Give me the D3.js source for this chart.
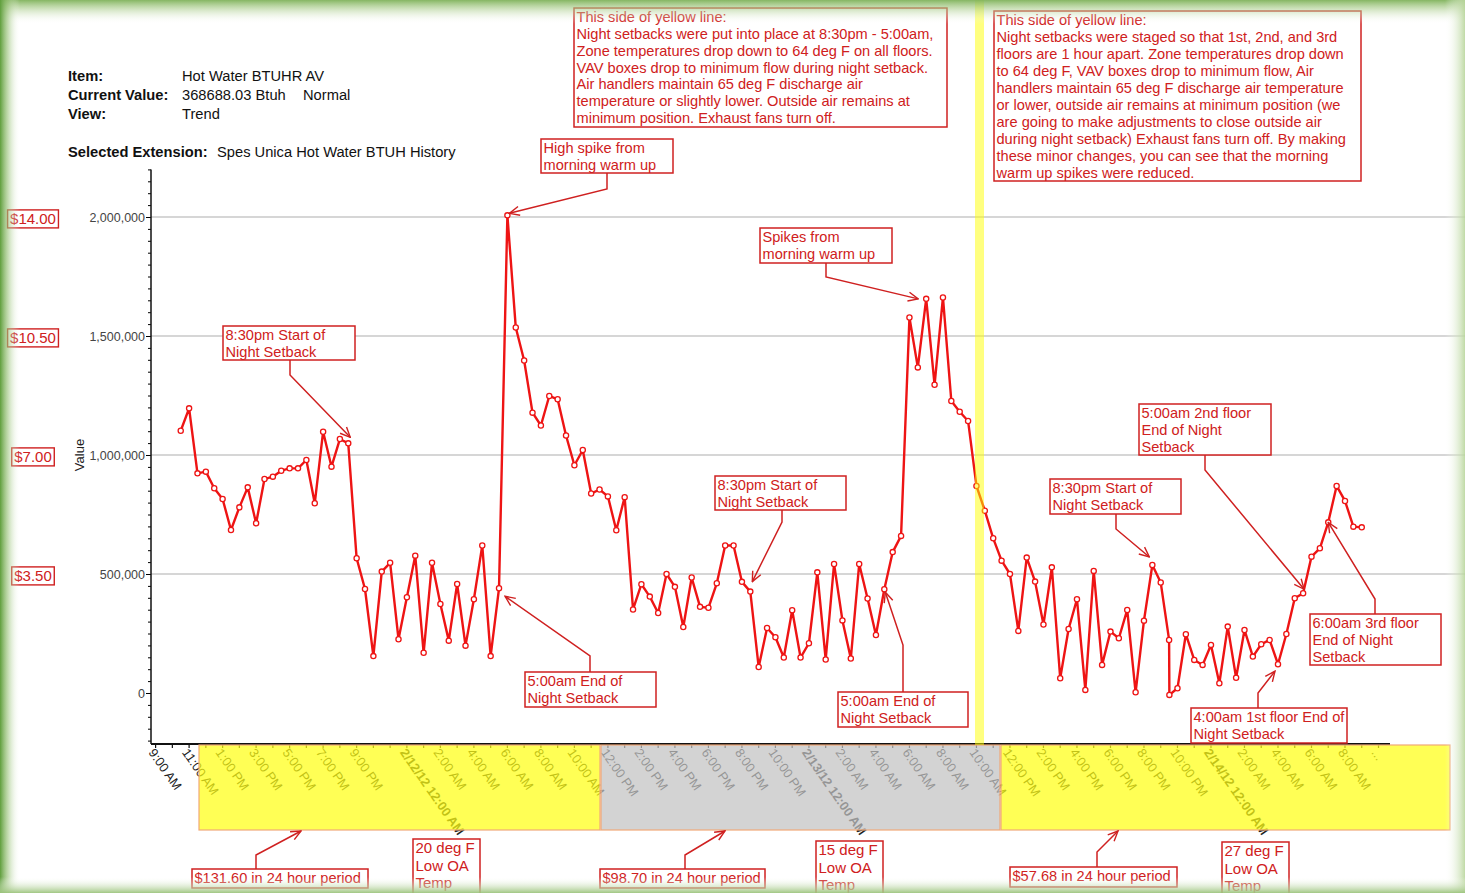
<!DOCTYPE html>
<html>
<head>
<meta charset="utf-8">
<script src="https://cdn.jsdelivr.net/npm/d3@7"></script>
<style>
  body { margin: 0; background: #fff; }
  svg { display: block; font-family: "Liberation Sans", Arial, sans-serif; }
</style>
</head>
<body>
<svg></svg>
<script>
// half-hourly samples, Hot Water BTUH, starting 2/11/12 10:30 AM
// (one extra sample sits right after 2/13 9:30 PM)
const hotWaterBtuh = [
  1102000, 1196000, 923000, 930000, 860000, 815000, 685000, 780000, 864000, 713000,
  899000, 909000, 934000, 944000, 944000, 979000, 797000, 1098000, 951000, 1067000,
  1049000, 566000, 437000, 155000, 510000, 547000, 226000, 402000, 577000, 169000,
  547000, 374000, 220000, 458000, 199000, 394000, 620000, 155000, 440000, 2007000,
  1536000, 1397000, 1178000, 1124000, 1248000, 1234000, 1082000, 957000, 1021000, 838000,
  855000, 826000, 684000, 823000, 351000, 457000, 405000, 336000, 500000, 446000,
  277000, 485000, 362000, 358000, 461000, 620000, 620000, 467000, 426000, 109000,
  273000, 234000, 149000, 348000, 149000, 209000, 507000, 141000, 542000, 305000,
  145000, 542000, 397000, 244000, 436000, 592000, 660000, 1578000, 1368000, 1656000,
  1295000, 1662000, 1227000, 1182000, 1143000, 870000, 766000, 650000, 556000, 500000,
  261000, 569000, 468000, 288000, 528000, 62000, 269000, 394000, 13000, 513000,
  118000, 258000, 230000, 349000, 3000, 304000, 538000, 464000, 223000, -8000,
  20000, 247000, 139000, 118000, 202000, 41000, 279000, 64000, 265000, 153000,
  205000, 223000, 121000, 248000, 398000, 419000, 573000, 608000, 717000, 870000,
  807000, 699000, 696000
]
const extraSampleIndex = 119   // the doubled reading
const firstSample = new Date(2012, 1, 11, 10, 30)

const valueTicks = [0, 500000, 1000000, 1500000, 2000000]
const costTicks = [500000, 1000000, 1500000, 2000000]
const costLabels = ["$3.50", "$7.00", "$10.50", "$14.00"]

const periodCosts = ["$131.60 in 24 hour period", "$98.70 in 24 hour period", "$57.68 in 24 hour period"]
const lowOATemps = ["20 deg F", "15 deg F", "27 deg F"]

const W = 1465, H = 893
const svg = d3.select("svg").attr("width", W).attr("height", H)

const red = "#cf2020"
const lineRed = "#ee1414"
const noteSize = 14.6

// sample times
const sampleTimes = hotWaterBtuh.map((d, i) => {
  if (i < extraSampleIndex) return d3.timeMinute.offset(firstSample, 30 * i)
  if (i === extraSampleIndex) return d3.timeMinute.offset(firstSample, 30 * (i - 1) + 1)
  return d3.timeMinute.offset(firstSample, 30 * (i - 1))
})
const samples = hotWaterBtuh.map((v, i) => ({ t: sampleTimes[i], v: v }))

const x = d3.scaleTime()
  .domain([new Date(2012, 1, 11, 9, 0), new Date(2012, 1, 14, 10, 0)])
  .range([155.6, 1378.5])

const y = d3.scaleLinear()
  .domain([-200000, 2200000])
  .range([740.6, 169.4])

const axisX0 = 151, axisY0 = 744

// ---------- defs ----------
const defs = svg.append("defs")
function grad(id, x1, y1, x2, y2, stops) {
  const g = defs.append("linearGradient").attr("id", id)
    .attr("x1", x1).attr("y1", y1).attr("x2", x2).attr("y2", y2)
  stops.forEach(s => g.append("stop").attr("offset", s[0]).attr("stop-color", s[1]).attr("stop-opacity", s[2]))
}
grad("gTop", 0, 0, 0, 1, [[0, "#7fb25a", 0.95], [0.35, "#a9cc8a", 0.6], [1, "#ffffff", 0]])
grad("gLeft", 0, 0, 1, 0, [[0, "#5f9e3c", 1], [0.4, "#9cc47c", 0.6], [1, "#ffffff", 0]])
grad("gRight", 1, 0, 0, 0, [[0, "#b9d69c", 0.9], [1, "#ffffff", 0]])
grad("gBottom", 0, 1, 0, 0, [[0, "#9cc47c", 0.95], [1, "#ffffff", 0]])

defs.append("marker")
  .attr("id", "arrow")
  .attr("viewBox", "0 0 12 12")
  .attr("refX", 11).attr("refY", 6)
  .attr("markerWidth", 12).attr("markerHeight", 12)
  .attr("markerUnits", "userSpaceOnUse")
  .attr("orient", "auto")
  .append("path")
  .attr("d", "M1,1.5 L11,6 L1,10.5")
  .attr("fill", "none")
  .attr("stroke", red)
  .attr("stroke-width", 1.4)

svg.append("rect").attr("width", W).attr("height", H).attr("fill", "#fff")

// ---------- header ----------
const header = svg.append("g").attr("font-size", 14.7).attr("fill", "#111")
const headerRows = [
  ["Item:", "Hot Water BTUHR AV", 81],
  ["Current Value:", "368688.03 Btuh", 100],
  ["View:", "Trend", 119]
]
headerRows.forEach(r => {
  header.append("text").attr("x", 68).attr("y", r[2]).attr("font-weight", "bold").text(r[0])
  header.append("text").attr("x", 182).attr("y", r[2]).text(r[1])
})
header.append("text").attr("x", 303).attr("y", 100).text("Normal")
header.append("text").attr("x", 68).attr("y", 157).attr("font-weight", "bold").text("Selected Extension:")
header.append("text").attr("x", 217).attr("y", 157).text("Spes Unica Hot Water BTUH History")

// ---------- grid ----------
svg.append("g")
  .selectAll("line.grid")
  .data(valueTicks.filter(d => d > 0))
  .enter()
  .append("line")
  .attr("x1", axisX0).attr("x2", W)
  .attr("y1", d => y(d)).attr("y2", d => y(d))
  .attr("stroke", "#c8c8c8")
  .attr("stroke-width", 1.5)

// ---------- y axis ----------
const yMinor = svg.append("g").attr("transform", `translate(${axisX0},0)`)
  .call(d3.axisLeft(y).tickValues(d3.range(-200000, 2200001, 50000)).tickSize(3).tickFormat(""))
yMinor.select(".domain").remove()
const yAxis = svg.append("g").attr("transform", `translate(${axisX0},0)`)
  .call(d3.axisLeft(y).tickValues(valueTicks).tickSize(5).tickPadding(1).tickFormat(d3.format(",")))
yAxis.select(".domain").remove()
yAxis.selectAll("text").attr("font-size", 12.5).attr("fill", "#444")
  .attr("font-family", "'Liberation Sans', Arial, sans-serif")
svg.append("line")
  .attr("x1", axisX0).attr("x2", axisX0)
  .attr("y1", y(2200000)).attr("y2", axisY0)
  .attr("stroke", "#111").attr("stroke-width", 1.5)

svg.append("text")
  .attr("transform", `translate(84,${y(1000000)}) rotate(-90)`)
  .attr("text-anchor", "middle")
  .attr("font-size", 13)
  .attr("fill", "#222")
  .text("Value")

// ---------- x axis ----------
const hourTicks = d3.timeHour.range(new Date(2012, 1, 11, 9), new Date(2012, 1, 14, 11))
svg.append("g")
  .selectAll("line")
  .data(hourTicks)
  .enter()
  .append("line")
  .attr("x1", d => x(d)).attr("x2", d => x(d))
  .attr("y1", axisY0).attr("y2", axisY0 + 4)
  .attr("stroke", "#111").attr("stroke-width", 1.2)

svg.append("line")
  .attr("x1", axisX0).attr("x2", 1390)
  .attr("y1", axisY0).attr("y2", axisY0)
  .attr("stroke", "#111").attr("stroke-width", 1.8)

const labelTimes = [9, 11, 13, 15, 17, 19, 21].map(h => new Date(2012, 1, 11, h))
  .concat(d3.timeHour.every(2).range(new Date(2012, 1, 12, 0), new Date(2012, 1, 14, 9)))
const fmtTime = d3.timeFormat("%-I:%M %p")
const fmtDate = d3.timeFormat("%-m/%-d/%y %-I:%M %p")

const xLabels = svg.append("g").attr("font-size", 12.8).attr("fill", "#222")
xLabels.selectAll("text")
  .data(labelTimes)
  .enter()
  .append("text")
  .attr("transform", d => `translate(${x(d) - 1},${axisY0 + 4}) rotate(55)`)
  .attr("dy", "0.62em")
  .attr("font-weight", d => d.getHours() === 0 ? "bold" : "normal")
  .text(d => d.getHours() === 0 ? fmtDate(d) : fmtTime(d))
xLabels.append("text")
  .attr("transform", `translate(${x(new Date(2012, 1, 14, 10)) - 1},${axisY0 + 4}) rotate(55)`)
  .attr("dy", "0.62em")
  .text("...")

// ---------- day bands (drawn over the labels) ----------
const bands = [
  { x0: 199, x1: 600, fill: "rgb(255,255,20)" },
  { x0: 601, x1: 1000, fill: "rgb(194,194,194)" },
  { x0: 1001, x1: 1450, fill: "rgb(255,255,20)" }
]
svg.append("g")
  .selectAll("rect")
  .data(bands)
  .enter()
  .append("rect")
  .attr("x", d => d.x0).attr("y", 745)
  .attr("width", d => d.x1 - d.x0).attr("height", 85)
  .attr("fill", d => d.fill)
  .attr("fill-opacity", 0.72)
  .attr("stroke", "#f0a878")
  .attr("stroke-width", 1.2)

// ---------- data line ----------
const lineGenerator = d3.line()
  .x(d => x(d.t))
  .y(d => y(d.v))

svg.append("path")
  .datum(samples)
  .attr("d", lineGenerator)
  .attr("fill", "none")
  .attr("stroke", lineRed)
  .attr("stroke-width", 2.4)
  .attr("stroke-linejoin", "round")

svg.append("g")
  .selectAll("circle")
  .data(samples)
  .enter()
  .append("circle")
  .attr("cx", d => x(d.t))
  .attr("cy", d => y(d.v))
  .attr("r", 2.6)
  .attr("fill", "#fff")
  .attr("stroke", lineRed)
  .attr("stroke-width", 1.3)

// ---------- yellow divider ----------
svg.append("rect")
  .attr("x", 975).attr("y", 0)
  .attr("width", 9).attr("height", 745)
  .attr("fill", "#ffff00")
  .attr("fill-opacity", 0.5)

// ---------- cost boxes at left ----------
const costG = svg.append("g")
  .selectAll("g")
  .data(costTicks)
  .enter()
  .append("g")
  .attr("transform", d => `translate(33,${y(d) + 2})`)
costG.append("text")
  .attr("text-anchor", "middle")
  .attr("dy", "0.36em")
  .attr("font-size", 15)
  .attr("fill", red)
  .text((d, i) => costLabels[i])
costG.each(function() {
  const g = d3.select(this)
  const b = g.select("text").node().getBBox()
  g.insert("rect", "text")
    .attr("x", b.x - 2.5).attr("y", b.y - 0.5)
    .attr("width", b.width + 5).attr("height", b.height + 1)
    .attr("fill", "#fff")
    .attr("stroke", red)
    .attr("stroke-width", 1.4)
})

// ---------- annotations ----------
function tip(i, off) {
  return [x(samples[i].t) + off[0], y(samples[i].v) + off[1]]
}

const notes = [
  { box: [574, 8, 373, 119], lead: 16.8, lines: [
    "This side of yellow line:",
    "Night setbacks were put into place at 8:30pm - 5:00am,",
    "Zone temperatures drop down to 64 deg F on all floors.",
    "VAV boxes drop to minimum flow during night setback.",
    "Air handlers maintain 65 deg F discharge air",
    "temperature or slightly lower. Outside air remains at",
    "minimum position. Exhaust fans turn off."] },
  { box: [994, 11, 367, 170], lead: 17, lines: [
    "This side of yellow line:",
    "Night setbacks were staged so that 1st, 2nd, and 3rd",
    "floors are 1 hour apart. Zone temperatures drop down",
    "to 64 deg F, VAV boxes drop to minimum flow, Air",
    "handlers maintain 65 deg F discharge air temperature",
    "or lower, outside air remains at minimum position (we",
    "are going to make adjustments to close outside air",
    "during night setback) Exhaust fans turn off. By making",
    "these minor changes, you can see that the morning",
    "warm up spikes were reduced."] },
  { box: [541, 139, 132, 34], lines: ["High spike from", "morning warm up"],
    path: [[607, 173], [607, 189], tip(39, [2, -2])] },
  { box: [760, 228, 132, 35], lines: ["Spikes from", "morning warm up"],
    path: [[826, 263], [826, 277], tip(89, [-8, 0])] },
  { box: [223, 326, 132, 34], lines: ["8:30pm Start of", "Night Setback"],
    path: [[290, 360], [290, 375], tip(20, [2, -6])] },
  { box: [525, 672, 131, 35], lines: ["5:00am End of", "Night Setback"],
    path: [[590, 672], [590, 656], tip(38, [6, 8])] },
  { box: [715, 476, 131, 34], lines: ["8:30pm Start of", "Night Setback"],
    path: [[782, 510], [782, 522], tip(68, [2, -10])] },
  { box: [838, 692, 130, 35], lines: ["5:00am End of", "Night Setback"],
    path: [[903, 692], [903, 645], tip(84, [1, 3])] },
  { box: [1050, 479, 131, 35], lines: ["8:30pm Start of", "Night Setback"],
    path: [[1116, 514], [1116, 529], tip(116, [-3, -8])] },
  { box: [1139, 404, 132, 51], lines: ["5:00am 2nd floor", "End of Night", "Setback"],
    path: [[1205, 455], [1205, 470], tip(135, [1, -4])] },
  { box: [1310, 614, 131, 51], lines: ["6:00am 3rd floor", "End of Night", "Setback"],
    path: [[1375, 614], [1375, 599], tip(138, [0, 0])] },
  { box: [1191, 708, 156, 35], lines: ["4:00am 1st floor End of", "Night Setback"],
    path: [[1258, 708], [1258, 693], tip(132, [-3, 7])] },
  { box: [192, 869, 176, 19], lines: [periodCosts[0]],
    path: [[256, 869], [256, 855], [301, 831]] },
  { box: [600, 869, 165, 19], lines: [periodCosts[1]],
    path: [[685, 869], [685, 855], [725, 831]] },
  { box: [1010, 867, 167, 20], lines: [periodCosts[2]],
    path: [[1097, 867], [1097, 852], [1118, 831]] },
  { box: [413, 839, 67, 60], size: 15, lead: 17.5, lines: [lowOATemps[0], "Low OA", "Temp"] },
  { box: [816, 841, 67, 60], size: 15, lead: 17.5, lines: [lowOATemps[1], "Low OA", "Temp"] },
  { box: [1222, 842, 67, 60], size: 15, lead: 17.5, lines: [lowOATemps[2], "Low OA", "Temp"] }
]

const noteG = svg.append("g")
notes.forEach(n => {
  if (n.path) {
    noteG.append("path")
      .attr("d", d3.line()(n.path))
      .attr("fill", "none")
      .attr("stroke", red)
      .attr("stroke-width", 1.5)
      .attr("marker-end", "url(#arrow)")
  }
  noteG.append("rect")
    .attr("x", n.box[0]).attr("y", n.box[1])
    .attr("width", n.box[2]).attr("height", n.box[3])
    .attr("fill", "#fff")
    .attr("stroke", red)
    .attr("stroke-width", 1.5)
  const size = n.size || noteSize
  const lead = n.lead || 16.8
  noteG.append("g")
    .selectAll("text")
    .data(n.lines)
    .enter()
    .append("text")
    .attr("x", n.box[0] + 2.5)
    .attr("y", (d, i) => n.box[1] + 14.2 + i * lead)
    .attr("font-size", size)
    .attr("fill", red)
    .text(d => d)
})

// ---------- green frame ----------
const frame = svg.append("g")
frame.append("rect").attr("x", 0).attr("y", 0).attr("width", W).attr("height", 24).attr("fill", "url(#gTop)")
frame.append("rect").attr("x", 0).attr("y", 0).attr("width", 20).attr("height", H).attr("fill", "url(#gLeft)")
frame.append("rect").attr("x", W - 20).attr("y", 0).attr("width", 20).attr("height", H).attr("fill", "url(#gRight)")
frame.append("rect").attr("x", 0).attr("y", H - 16).attr("width", W).attr("height", 16).attr("fill", "url(#gBottom)")
</script>
</body>
</html>
